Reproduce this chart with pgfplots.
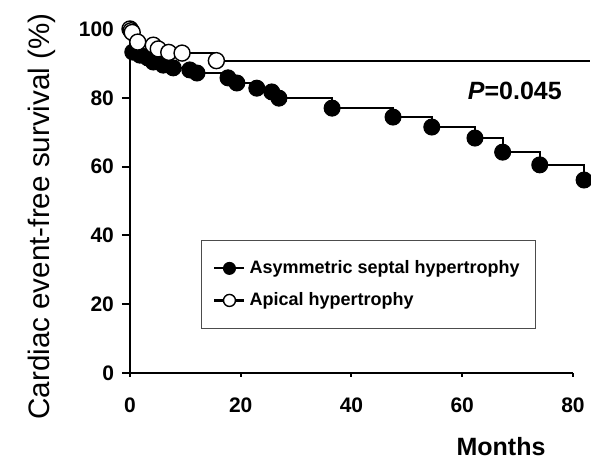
\documentclass[border=0pt]{standalone}
\usepackage{fontspec}
\setmainfont{Liberation Sans}
\usepackage{pgfplots}
\pgfplotsset{compat=1.18}

\begin{document}
\begin{tikzpicture}
% axis origin sits at (0,0)
\useasboundingbox (-65pt,-44pt) rectangle (230.5pt,186.5pt);
\begin{axis}[
    width=221.5pt, height=172pt, scale only axis,
    xmin=0, xmax=80, ymin=0, ymax=100,
    axis lines=left,
    axis line style={line width=1.2pt, -},
    clip=false,
    xtick={0,20,40,60,80},
    ytick={0,20,40,60,80,100},
    tick align=outside,
    major tick length=4pt,
    tick style={line width=1pt, black},
    xtick style={/pgfplots/major tick length=2pt},
    /pgf/number format/assume math mode=true,
    ticklabel style={font=\bfseries\fontsize{10.5}{12}\selectfont},
    xticklabel style={yshift=-5pt},
    yticklabel style={xshift=-0.5pt},
    xlabel={\bfseries Months},
    ylabel={Cardiac event-free survival (\%)},
    xlabel style={at={(rel axis cs:0.8375,0)}, anchor=center, yshift=-37pt,
        font=\fontsize{12.5}{14}\selectfont},
    ylabel style={at={(rel axis cs:0,0.455)}, anchor=center, yshift=44pt,
        font=\fontsize{14.8}{16}\selectfont},
    legend style={at={(axis cs:12.8,38.7)}, anchor=north west,
        draw=black!70, line width=0.5pt,
        font=\bfseries\fontsize{9}{11}\selectfont,
        inner xsep=6pt, inner ysep=8pt, row sep=4pt},
    legend cell align=left,
    legend image code/.code={
        \draw[#1, mark=none] (0pt,0pt) -- (15pt,0pt);
        \draw[#1, mark size=3pt, mark indices={1}] plot coordinates {(7.5pt,0pt)};},
]

% asymmetric septal hypertrophy
\addplot[const plot, black, line width=1.1pt,
    mark=*, mark size=4pt, mark options={fill=black, line width=0.5pt},
    mark indices={2,...,21}] coordinates {
    (0,100) (0.5,93.3) (1.8,92.4) (3.2,91.6) (4.2,90.4) (6.0,89.5)
    (7.8,88.7) (10.8,88.1) (12.1,87.2) (17.7,85.8) (19.3,84.3)
    (22.9,82.8) (25.6,81.7) (26.9,79.9) (36.5,77.0) (47.5,74.4)
    (54.5,71.5) (62.3,68.3) (67.3,64.2) (74.0,60.5) (82.0,56.1)
};
% apical hypertrophy
\addplot[const plot, black, line width=1.1pt,
    mark=*, mark size=4pt, mark options={fill=white, line width=0.7pt},
    mark indices={1,...,9}] coordinates {
    (0,100) (0.2,99.5) (0.4,99) (1.4,96.2) (4.2,95.3) (5.1,94.2)
    (7.0,93.2) (9.4,93.0) (15.6,90.8) (83,90.8)
};
\legend{Asymmetric septal hypertrophy, Apical hypertrophy}

\node[font=\bfseries\fontsize{12.5}{14}\selectfont] at (axis cs:69.5,82) {\textit{P}=0.045};
\end{axis}
\end{tikzpicture}
\end{document}
